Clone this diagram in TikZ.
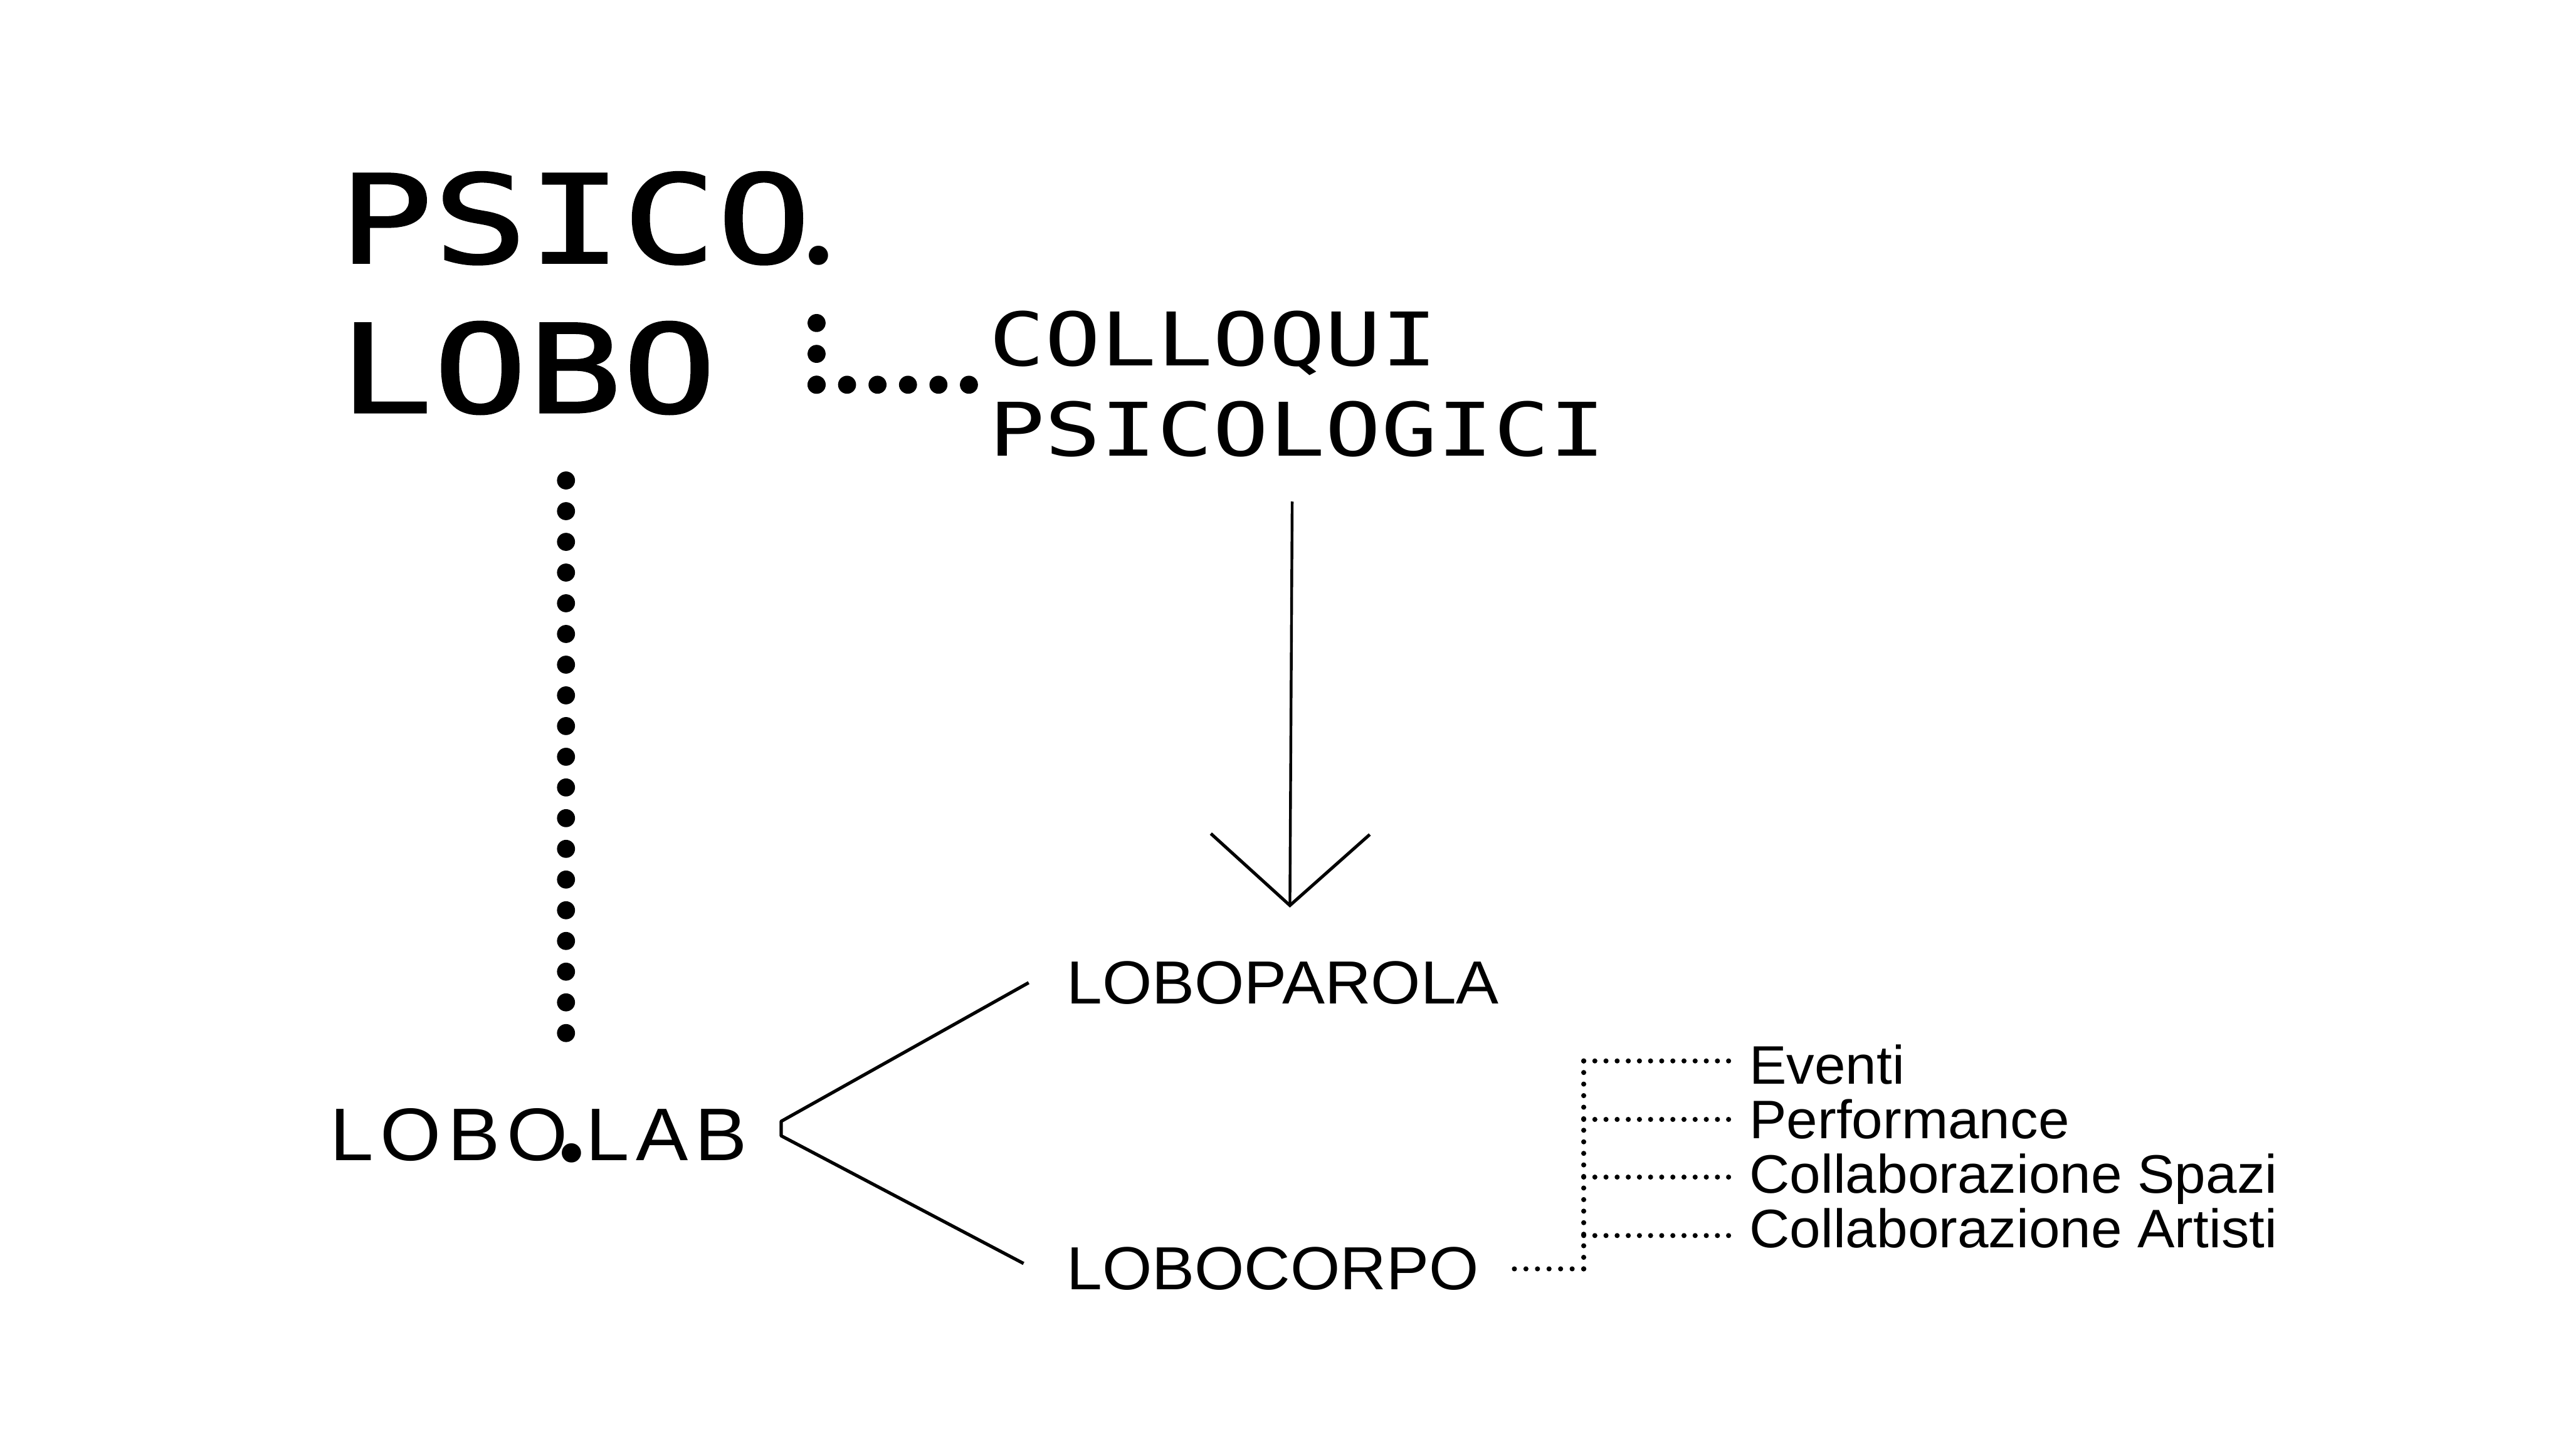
\documentclass[tikz,border=0pt]{standalone}
\usepackage{fontspec}
\usetikzlibrary{arrows.meta,positioning,calc}

\newfontfamily\titlefont[FakeStretch=1.28,FakeBold=1.5]{DejaVu Sans Mono}
\newfontfamily\monofont[FakeStretch=1.26]{DejaVu Sans Mono}
\newfontfamily\labfont[FakeStretch=1.05]{Liberation Sans}
\newfontfamily\itemfont[FakeStretch=1.03]{Liberation Sans}
\newfontfamily\dotfont{Liberation Serif}
% big round dot
\newcommand\rounddot{{\dotfont\fontsize{28.2pt}{0pt}\selectfont.}}

\begin{document}
\begin{tikzpicture}[
      x=0.01cm, y=-0.01cm,
      title/.style={inner sep=0pt, anchor=base west,
                    font=\titlefont\fontsize{21.3pt}{26pt}\selectfont},
      mono/.style={inner sep=0pt, anchor=base west, align=left,
                   font=\monofont\fontsize{12.84pt}{15.65pt}\selectfont},
      lab/.style={inner sep=0pt, anchor=base west,
                  font=\labfont\fontsize{10.57pt}{12pt}\selectfont},
      item/.style={inner sep=0pt, anchor=base west,
                   font=\itemfont\fontsize{9.42pt}{11pt}\selectfont},
      bigdots/.style={line width=3.13pt, line cap=round, dash pattern=on 0pt off 5.29pt},
      smalldots/.style={line width=0.88pt, line cap=round, dash pattern=on 0pt off 2.006pt},
      flow/.style={-{Straight Barb[length=12.4pt,width=27.6pt,line width=0.55pt,sharp]},
                   line width=0.48pt},
      branch/.style={line width=0.57pt, line join=round}]
    \fill[white] (0,0) rectangle (1568,889);
    \useasboundingbox (0,0) rectangle (1568,889);

    \node[title] (psico) at (206,160.6) {PSICO\kern-2.2pt\rounddot};
    \node[title] (lobo) at (206,252) {LOBO};
    \node[mono] (colloqui) at (603,278.6) {COLLOQUI\\PSICOLOGICI};
    \node[lab, font=\labfont\fontsize{12.95pt}{15pt}\selectfont\addfontfeature{LetterSpace=9}]
         (lobolab) at (201,708.9) {LOBO\kern-2.9pt\rounddot\kern-1.08pt LAB};
    \node[lab] (loboparola) at (650.6,613) {LOBOPAROLA};
    \node[lab] (lobocorpo) at (650.6,787.5) {LOBOCORPO};
    \node[item] (eventi) at (1067.5,662) {Eventi};
    \node[item] (performance) at ([yshift=-0.333cm]eventi.base west) {Performance};
    \node[item] (spazi) at ([yshift=-0.333cm]performance.base west) {Collaborazione Spazi};
    \node[item] (artisti) at ([yshift=-0.333cm]spazi.base west) {Collaborazione Artisti};

    % dotted links
    \coordinate (spine) at (345.6,0);
    \coordinate (knee) at (498.6,235);
    \coordinate (hub) at (967,775);
    \draw[bigdots, dash pattern=on 0pt off 5.332pt]
         ($(lobo.south -| spine)+(0,39.7)$) -- ($(lobolab.north -| spine)+(0,-43.5)$);
    \draw[bigdots, dash pattern=on 0pt off 5.36pt] (knee) -- ($(psico.base -| knee)+(0,36)$);
    \draw[bigdots] (knee) -- ($(colloqui.west |- knee)+(-10.5,0)$);

    \draw[flow] ([yshift=-0.264cm]colloqui.south -| 789,0) -- ([yshift=0.32cm]loboparola.north -| 787.6,0);
    \draw[branch] ($(loboparola.west)+(-22.5,0)$) -- ($(lobolab.east)+(20,-8.8)$)
                 -- ($(lobolab.east)+(20,0)$) -- ($(lobocorpo.west)+(-25.6,-3)$);

    \draw[smalldots] (hub) -- ($(lobocorpo.east |- hub)+(15,0)$);
    \draw[smalldots] (hub) -- ($(eventi.base -| hub)+(0,-14.5)$);
    \draw[smalldots, dash pattern=on 0pt off 1.935pt] ($(eventi.base -| hub)+(0,-14)$) -- ($(eventi.base west)+(-11.5,-14)$);
    \draw[smalldots, dash pattern=on 0pt off 1.935pt] ($(performance.base -| hub)+(0,-11.6)$) -- ($(performance.base west)+(-11.5,-11.6)$);
    \draw[smalldots, dash pattern=on 0pt off 1.935pt] ($(spazi.base -| hub)+(0,-9.7)$) -- ($(spazi.base west)+(-11.5,-9.7)$);
    \draw[smalldots, dash pattern=on 0pt off 1.935pt] ($(artisti.base -| hub)+(0,-7.3)$) -- ($(artisti.base west)+(-11.5,-7.3)$);
  \end{tikzpicture}
\end{document}
